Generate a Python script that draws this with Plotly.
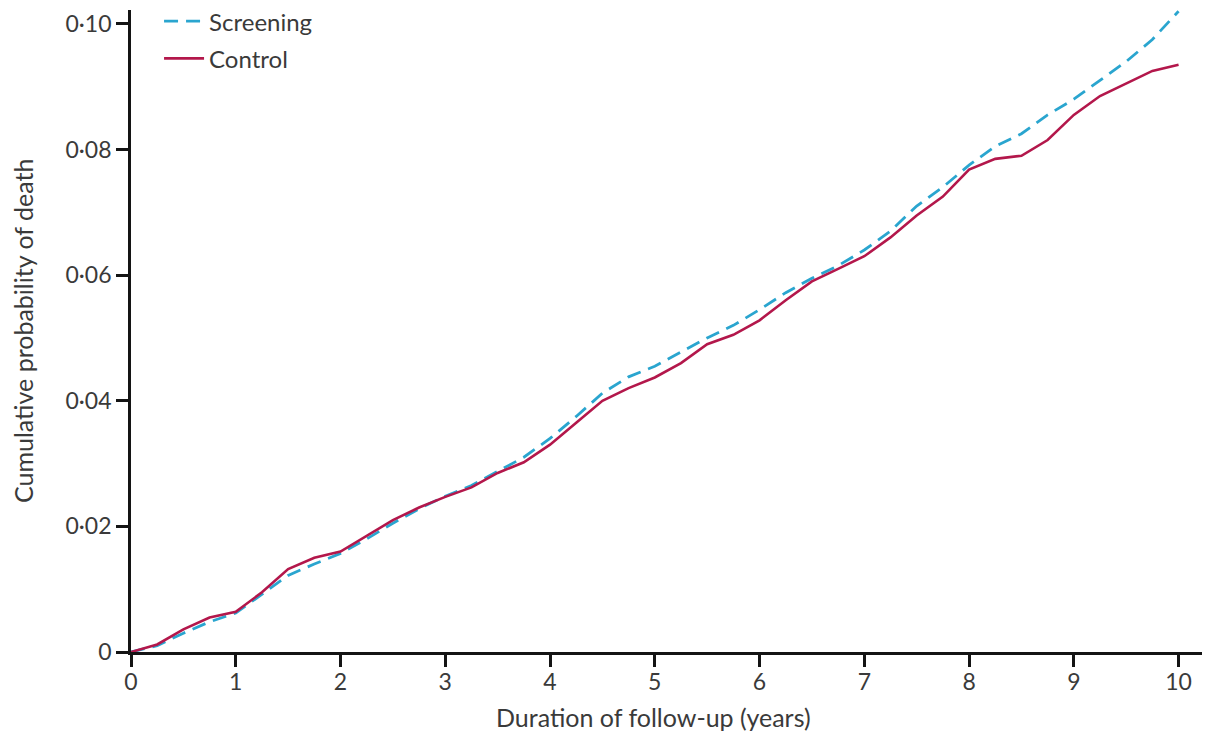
import plotly.graph_objects as go

years = [0, 0.25, 0.5, 0.75, 1.0, 1.25, 1.5, 1.75, 2.0, 2.25, 2.5, 2.75, 3.0, 3.25, 3.5, 3.75,
         4.0, 4.25, 4.5, 4.75, 5.0, 5.25, 5.5, 5.75, 6.0, 6.25, 6.5, 6.75, 7.0, 7.25, 7.5, 7.75,
         8.0, 8.25, 8.5, 8.75, 9.0, 9.25, 9.5, 9.75, 10.0]

screening = [0, 0.0010, 0.0030, 0.0048, 0.0062, 0.0092, 0.0122, 0.0140, 0.0157, 0.0180, 0.0205,
             0.0228, 0.0248, 0.0265, 0.0287, 0.0310, 0.0340, 0.0375, 0.0412, 0.0438, 0.0455,
             0.0478, 0.0500, 0.0520, 0.0545, 0.0572, 0.0595, 0.0615, 0.0640, 0.0670, 0.0710,
             0.0740, 0.0775, 0.0805, 0.0825, 0.0855, 0.0880, 0.0910, 0.0940, 0.0975, 0.1020]

control = [0, 0.0012, 0.0036, 0.0055, 0.0064, 0.0095, 0.0132, 0.0150, 0.0160, 0.0185, 0.0210,
           0.0230, 0.0247, 0.0262, 0.0285, 0.0302, 0.0330, 0.0365, 0.0400, 0.0420, 0.0437,
           0.0460, 0.0490, 0.0505, 0.0528, 0.0560, 0.0590, 0.0610, 0.0630, 0.0660, 0.0695,
           0.0725, 0.0768, 0.0785, 0.0790, 0.0815, 0.0855, 0.0885, 0.0905, 0.0925, 0.0935]

x_ticks = [0, 1, 2, 3, 4, 5, 6, 7, 8, 9, 10]
y_ticks = [0, 0.02, 0.04, 0.06, 0.08, 0.10]
y_tick_labels = ["0", "0·02", "0·04", "0·06", "0·08", "0·10"]

FONT = "Lato"
TXT = "#3a3a3a"
AX = "#141414"

fig = go.Figure()
fig.add_trace(go.Scatter(x=years, y=screening, mode="lines", name="Screening",
                         legendgroup="s",
                         line=dict(color="#2aa5cf", width=2.8, dash="14px,8px")))
fig.add_trace(go.Scatter(x=years, y=control, mode="lines", name="Control",
                         legendgroup="c",
                         line=dict(color="#b3174b", width=2.6)))

axis_common = dict(showgrid=False, zeroline=False, showline=True, linecolor=AX, linewidth=2.8,
                   ticks="outside", ticklen=12, tickwidth=2.8, tickcolor=AX,
                   tickfont=dict(family=FONT, size=23, color=TXT), automargin=False)

fig.update_layout(
    width=1202, height=730,
    margin=dict(l=123, r=0, t=2, b=86, autoexpand=False),
    paper_bgcolor="white", plot_bgcolor="white",
    font=dict(family=FONT, size=23, color=TXT),
    showlegend=True,
    legend=dict(x=0.026, y=1.017, xanchor="left", yanchor="top",
                font=dict(family=FONT, size=24, color=TXT), bgcolor="rgba(0,0,0,0)",
                traceorder="grouped", tracegroupgap=3, itemwidth=40),
    xaxis=dict(range=[0, 10.3], tickvals=x_ticks, ticktext=[str(t) for t in x_ticks],
               ticklabelstandoff=-5, **axis_common),
    yaxis=dict(range=[0, 0.1022], tickvals=y_ticks, ticktext=y_tick_labels,
               **axis_common),
)

fig.add_annotation(text="Duration of follow-up (years)", xref="paper", yref="paper",
                   x=(653 - 131) / 1079, y=-(717 - 652) / 642, showarrow=False,
                   xanchor="center", yanchor="middle",
                   font=dict(family=FONT, size=25, color=TXT))
fig.add_annotation(text="Cumulative probability of death", xref="paper", yref="paper",
                   x=-(131 - 23) / 1079, y=0.5, showarrow=False, textangle=-90,
                   xanchor="center", yanchor="middle",
                   font=dict(family=FONT, size=25, color=TXT))

fig.write_html("out.html")
